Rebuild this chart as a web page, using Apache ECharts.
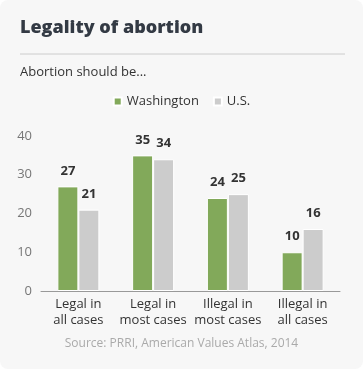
<!DOCTYPE html>
<html><head><meta charset="utf-8">
<script src="https://cdn.jsdelivr.net/npm/echarts@6/dist/echarts.min.js"></script>
<style>
html,body{margin:0;padding:0;background:#fff;}
#c{width:363px;height:369px;background:#f7f7f7;border-radius:8px;}
</style></head>
<body><div id="c"></div>
<script>
const categories = ['Legal in\nall cases', 'Legal in\nmost cases', 'Illegal in\nmost cases', 'Illegal in\nall cases'];
const washington = [27, 35, 24, 10];
const us = [21, 34, 25, 16];
const seriesNames = ['Washington', 'U.S.'];
const chart = echarts.init(document.getElementById('c'), null, {renderer: 'canvas'});
const F = '"Open Sans", sans-serif';
chart.setOption({
  animation: false,
  backgroundColor: 'transparent',
  title: [
    {text: 'Legality of abortion', left: 20, top: 19, padding: 0, textStyle: {fontFamily: F, fontSize: 18, fontWeight: 800, color: '#333a44'}},
    {text: 'Abortion should be...', left: 20, top: 66, padding: 0, textStyle: {fontFamily: F, fontSize: 13, fontWeight: 'normal', color: '#333'}},
    {text: 'Source: PRRI, American Values Atlas, 2014', left: 'center', top: 338, padding: 0, textStyle: {fontFamily: F, fontSize: 12, fontWeight: 'normal', color: '#aaa'}}
  ],
  graphic: [{type: 'line', shape: {x1: 20, y1: 54, x2: 345, y2: 54}, style: {stroke: '#cccccc', lineWidth: 1}}],
  legend: {
    data: seriesNames, top: 90, left: 'center', itemWidth: 8, itemHeight: 8, itemGap: 14, icon: 'rect',
    textStyle: {fontFamily: F, fontSize: 13, color: '#333'}
  },
  grid: {left: 41, right: 23, top: 136, bottom: 78},
  xAxis: {
    type: 'category', data: categories,
    axisLine: {lineStyle: {color: '#999'}}, axisTick: {show: false},
    axisLabel: {fontFamily: F, fontSize: 13, color: '#333', lineHeight: 16, margin: 5, interval: 0}
  },
  yAxis: {
    type: 'value', min: 0, max: 40, interval: 10,
    splitLine: {show: false}, axisLine: {show: false}, axisTick: {show: false},
    axisLabel: {fontFamily: F, fontSize: 13, color: '#777', margin: 9}
  },
  series: [
    {name: seriesNames[0], type: 'bar', data: washington, barWidth: 21, barGap: '0%',
     itemStyle: {color: '#82a95a', borderColor: '#fff', borderWidth: 1},
     label: {show: true, position: 'top', distance: 9, fontFamily: F, fontSize: 13, fontWeight: 'bold', color: '#333'}},
    {name: seriesNames[1], type: 'bar', data: us, barWidth: 21,
     itemStyle: {color: '#cccccc', borderColor: '#fff', borderWidth: 1},
     label: {show: true, position: 'top', distance: 9, fontFamily: F, fontSize: 13, fontWeight: 'bold', color: '#333'}}
  ]
});
</script></body></html>
